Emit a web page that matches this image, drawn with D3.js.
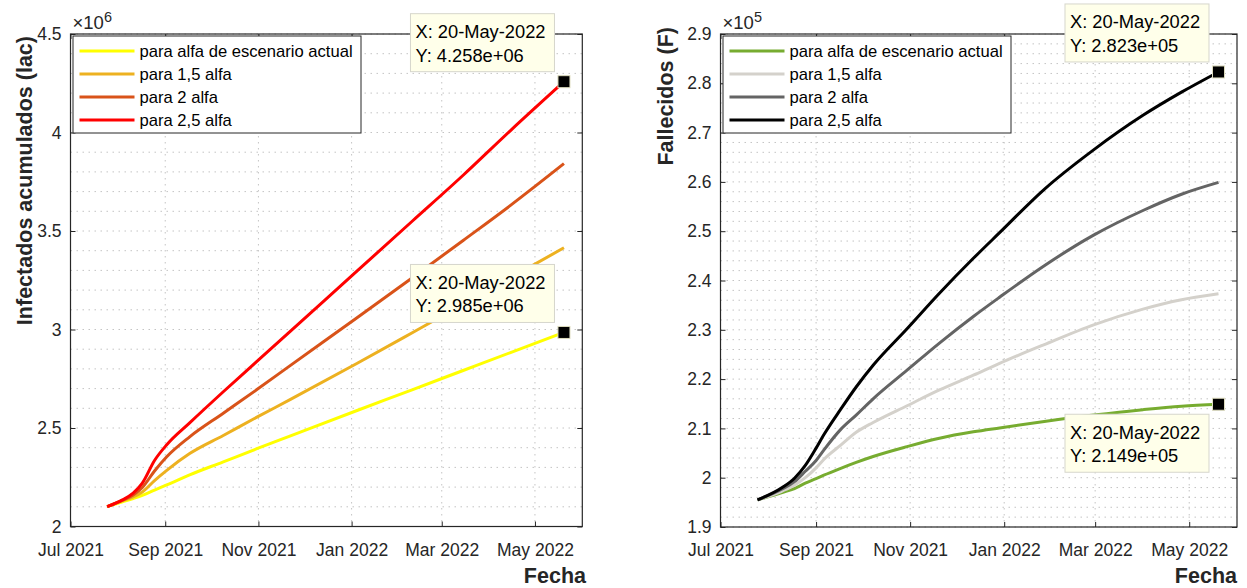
<!DOCTYPE html>
<html>
<head>
<meta charset="utf-8">
<script src="https://cdn.jsdelivr.net/npm/d3@7/dist/d3.min.js"></script>
<style>
    body { margin: 0; background: #ffffff; }
    svg { display: block; font-family: "Liberation Sans", Arial, Helvetica, sans-serif; }
</style>
</head>
<body>
<div id="chart"></div>
<script>
(function () {

    'use strict';

    // left panel: infectados acumulados (values x 1e6)
    var fechasInf = ['2021-07-25', '2021-08-04', '2021-08-11', '2021-08-17', '2021-08-25', '2021-09-02', '2021-09-17',
        '2021-10-09', '2021-10-31', '2021-11-22', '2022-01-05', '2022-02-10', '2022-03-15', '2022-04-15', '2022-05-20'];
    var infActual = [2.101, 2.125, 2.142, 2.158, 2.185, 2.211, 2.262, 2.328, 2.395, 2.460, 2.590, 2.695, 2.792, 2.883, 2.985];
    var inf15 = [2.101, 2.131, 2.150, 2.175, 2.233, 2.285, 2.370, 2.462, 2.555, 2.645, 2.830, 2.985, 3.128, 3.262, 3.415];
    var inf2 = [2.101, 2.133, 2.160, 2.198, 2.282, 2.354, 2.455, 2.575, 2.695, 2.818, 3.062, 3.264, 3.452, 3.630, 3.842];
    var inf25 = [2.101, 2.135, 2.169, 2.220, 2.335, 2.415, 2.526, 2.684, 2.838, 2.992, 3.300, 3.552, 3.783, 4.010, 4.258];
    var yTicksInf = [2, 2.5, 3, 3.5, 4, 4.5];

    // right panel: fallecidos (values x 1e5)
    var fechasFal = ['2021-07-25', '2021-08-10', '2021-08-18', '2021-08-25', '2021-09-01', '2021-09-06', '2021-09-17',
        '2021-09-27', '2021-10-08', '2021-10-30', '2021-11-20', '2021-12-12', '2021-12-29', '2022-01-27', '2022-02-28',
        '2022-04-01', '2022-04-26', '2022-05-20'];
    var falActual = [1.955, 1.970, 1.978, 1.989, 1.998, 2.005, 2.019, 2.031, 2.043, 2.063, 2.080, 2.093, 2.101, 2.114, 2.127, 2.138, 2.145, 2.149];
    var fal15 = [1.955, 1.973, 1.985, 2.000, 2.020, 2.037, 2.066, 2.092, 2.112, 2.146, 2.178, 2.208, 2.232, 2.270, 2.310, 2.342, 2.361, 2.373];
    var fal2 = [1.955, 1.977, 1.992, 2.013, 2.035, 2.056, 2.098, 2.127, 2.160, 2.218, 2.273, 2.327, 2.366, 2.430, 2.492, 2.542, 2.575, 2.599];
    var fal25 = [1.955, 1.980, 1.999, 2.025, 2.060, 2.087, 2.139, 2.184, 2.228, 2.302, 2.374, 2.445, 2.497, 2.585, 2.665, 2.735, 2.782, 2.823];
    var yTicksFal = [1.9, 2.0, 2.1, 2.2, 2.3, 2.4, 2.5, 2.6, 2.7, 2.8, 2.9];

    var legendNames = ['para alfa de escenario actual', 'para 1,5 alfa', 'para 2 alfa', 'para 2,5 alfa'];
    var xLimits = ['2021-07-01', '2022-06-01'];

    var width = 1247;
    var height = 588;
    var textColor = '#262626';

    var parseDate = d3.timeParse('%Y-%m-%d');
    var formatTick = d3.timeFormat('%b %Y');
    var formatTipDate = d3.timeFormat('%d-%b-%Y');

    // MATLAB style "4.258e+06"
    var formatTipValue = function (v) {
        var parts = d3.format('.3e')(v).split('e');
        var exp = parseInt(parts[1], 10);
        var abs = Math.abs(exp);
        return parts[0] + 'e' + (exp < 0 ? '-' : '+') + (abs < 10 ? '0' : '') + abs;
    };

    var buildSeries = function (fechas, values) {
        return values.map(function (v, i) {
            return {date: parseDate(fechas[i]), value: v};
        });
    };

    var svg = d3.select('#chart')
        .append('svg')
        .attr('width', width)
        .attr('height', height);

    svg.append('rect')
        .attr('width', width)
        .attr('height', height)
        .attr('fill', '#ffffff');

    var drawPanel = function (cfg) {

        var x = d3.scaleTime()
            .domain(xLimits.map(parseDate))
            .range([cfg.left, cfg.right]);

        var y = d3.scaleLinear()
            .domain([cfg.yTicks[0], cfg.yTicks[cfg.yTicks.length - 1]])
            .range([cfg.bottom, cfg.top]);

        var xTicks = x.ticks(d3.timeMonth.every(2));

        var g = svg.append('g');

        // grid
        var minorValues = d3.range(cfg.yTicks[0], cfg.yTicks[cfg.yTicks.length - 1] + cfg.minorStep / 2, cfg.minorStep);

        g.append('g')
            .selectAll('line')
            .data(minorValues)
            .enter()
            .append('line')
            .attr('x1', cfg.left)
            .attr('x2', cfg.right)
            .attr('y1', function (d) { return y(d); })
            .attr('y2', function (d) { return y(d); })
            .attr('stroke', '#c4c4c4')
            .attr('stroke-width', 1)
            .attr('stroke-dasharray', '1.5,4.5');

        g.append('g')
            .selectAll('line')
            .data(xTicks)
            .enter()
            .append('line')
            .attr('x1', function (d) { return x(d); })
            .attr('x2', function (d) { return x(d); })
            .attr('y1', cfg.top)
            .attr('y2', cfg.bottom)
            .attr('stroke', '#c4c4c4')
            .attr('stroke-width', 1)
            .attr('stroke-dasharray', '1.5,4.5');

        // axes (ticks inward, box on)
        var styleAxis = function (sel) {
            sel.select('.domain').remove();
            sel.selectAll('.tick line').attr('stroke', textColor);
            sel.selectAll('.tick text')
                .attr('fill', textColor)
                .style('font-size', '17.5px')
                .style('font-family', '"Liberation Sans", Arial, sans-serif');
        };

        g.append('g')
            .attr('transform', 'translate(0,' + cfg.bottom + ')')
            .call(d3.axisBottom(x).tickValues(xTicks).tickFormat(formatTick).tickSizeInner(-5).tickSizeOuter(0).tickPadding(17))
            .call(styleAxis);

        g.append('g')
            .attr('transform', 'translate(0,' + cfg.top + ')')
            .call(d3.axisTop(x).tickValues(xTicks).tickFormat('').tickSizeInner(-5).tickSizeOuter(0))
            .call(styleAxis);

        g.append('g')
            .attr('transform', 'translate(' + cfg.left + ',0)')
            .call(d3.axisLeft(y).tickValues(cfg.yTicks).tickFormat(d3.format('~g')).tickSizeInner(-5).tickSizeOuter(0).tickPadding(9))
            .call(styleAxis);

        g.append('g')
            .attr('transform', 'translate(' + cfg.right + ',0)')
            .call(d3.axisRight(y).tickValues(cfg.yTicks).tickFormat('').tickSizeInner(-5).tickSizeOuter(0))
            .call(styleAxis);

        g.append('rect')
            .attr('x', cfg.left)
            .attr('y', cfg.top)
            .attr('width', cfg.right - cfg.left)
            .attr('height', cfg.bottom - cfg.top)
            .attr('fill', 'none')
            .attr('stroke', textColor)
            .attr('stroke-width', 1.2);

        // exponent label
        var expText = g.append('text')
            .attr('x', cfg.left + 2)
            .attr('y', 29)
            .attr('fill', textColor)
            .style('font-size', '18.5px');
        expText.append('tspan').text('\u00d710');
        expText.append('tspan')
            .attr('dy', -7)
            .style('font-size', '14.5px')
            .text(cfg.exponent);

        // lines
        var line = d3.line()
            .x(function (d) { return x(d.date); })
            .y(function (d) { return y(d.value); })
            .curve(d3.curveMonotoneX);

        g.append('g')
            .selectAll('path')
            .data(cfg.series)
            .enter()
            .append('path')
            .attr('d', function (s) { return line(s.points); })
            .attr('fill', 'none')
            .attr('stroke', function (s) { return s.color; })
            .attr('stroke-width', 3)
            .attr('stroke-linejoin', 'round');

        // y label
        g.append('text')
            .attr('transform', 'translate(' + cfg.ylabelX + ',' + cfg.ylabelTop + ') rotate(-90)')
            .attr('text-anchor', 'end')
            .attr('fill', textColor)
            .style('font-size', '21.5px')
            .style('font-weight', 'bold')
            .text(cfg.ylabel);

        // x label
        g.append('text')
            .attr('x', cfg.fechaX)
            .attr('y', 583)
            .attr('text-anchor', 'end')
            .attr('fill', textColor)
            .style('font-size', '21.5px')
            .style('font-weight', 'bold')
            .text('Fecha');

        // legend
        var lg = g.append('g');
        lg.append('rect')
            .attr('x', cfg.left + 2.5)
            .attr('y', cfg.top + 2)
            .attr('width', 288)
            .attr('height', 97)
            .attr('fill', '#ffffff')
            .attr('stroke', textColor)
            .attr('stroke-width', 1);

        var items = lg.selectAll('g.item')
            .data(cfg.series)
            .enter()
            .append('g')
            .attr('transform', function (s, i) {
                return 'translate(' + (cfg.left + 2.5) + ',' + (cfg.top + 17 + i * 23) + ')';
            });

        items.append('line')
            .attr('x1', 6.5)
            .attr('x2', 61.5)
            .attr('stroke', function (s) { return s.color; })
            .attr('stroke-width', 3);

        items.append('text')
            .attr('x', 66.5)
            .attr('y', 6)
            .attr('fill', '#000000')
            .style('font-size', '16.6px')
            .text(function (s) { return s.name; });

        // datatips
        cfg.tips.forEach(function (tip) {
            var pts = cfg.series[tip.index].points;
            var last = pts[pts.length - 1];
            var mx = x(last.date);
            var my = y(last.value);
            var bw = 144;
            var bh = 58;
            var bx = mx - 9.5 - bw;
            var by = tip.below ? my + 10 : my - 10 - bh;

            g.append('rect')
                .attr('x', mx - 6)
                .attr('y', my - 6)
                .attr('width', 12)
                .attr('height', 12)
                .attr('fill', '#000000')
                .attr('stroke', '#deddbf')
                .attr('stroke-width', 1);

            g.append('rect')
                .attr('x', bx)
                .attr('y', by)
                .attr('width', bw)
                .attr('height', bh)
                .attr('fill', '#ffffea')
                .attr('stroke', '#d6d6cc')
                .attr('stroke-width', 1);

            g.append('text')
                .attr('x', bx + 5)
                .attr('y', by + 24.5)
                .attr('fill', '#000000')
                .style('font-size', '18.3px')
                .text('X: ' + formatTipDate(last.date));

            g.append('text')
                .attr('x', bx + 5)
                .attr('y', by + 48)
                .attr('fill', '#000000')
                .style('font-size', '18.3px')
                .text('Y: ' + formatTipValue(last.value * cfg.scale));
        });
    };

    drawPanel({
        left: 70.5, right: 582.3, top: 34, bottom: 526.5,
        yTicks: yTicksInf, minorStep: 0.1, exponent: '6', scale: 1e6,
        ylabel: 'Infectados acumulados (lac)', ylabelX: 32, ylabelTop: 36, fechaX: 586,
        series: [
            {name: legendNames[0], color: '#ffff00', points: buildSeries(fechasInf, infActual)},
            {name: legendNames[1], color: '#edb120', points: buildSeries(fechasInf, inf15)},
            {name: legendNames[2], color: '#d95319', points: buildSeries(fechasInf, inf2)},
            {name: legendNames[3], color: '#ff0000', points: buildSeries(fechasInf, inf25)}
        ],
        tips: [{index: 3, below: false}, {index: 0, below: false}]
    });

    drawPanel({
        left: 720.5, right: 1237, top: 34, bottom: 527,
        yTicks: yTicksFal, minorStep: 0.02, exponent: '5', scale: 1e5,
        ylabel: 'Fallecidos (F)', ylabelX: 673, ylabelTop: 27, fechaX: 1237,
        series: [
            {name: legendNames[0], color: '#77ac30', points: buildSeries(fechasFal, falActual)},
            {name: legendNames[1], color: '#d4d1cb', points: buildSeries(fechasFal, fal15)},
            {name: legendNames[2], color: '#646464', points: buildSeries(fechasFal, fal2)},
            {name: legendNames[3], color: '#000000', points: buildSeries(fechasFal, fal25)}
        ],
        tips: [{index: 3, below: false}, {index: 0, below: true}]
    });

}());
</script>
</body>
</html>
